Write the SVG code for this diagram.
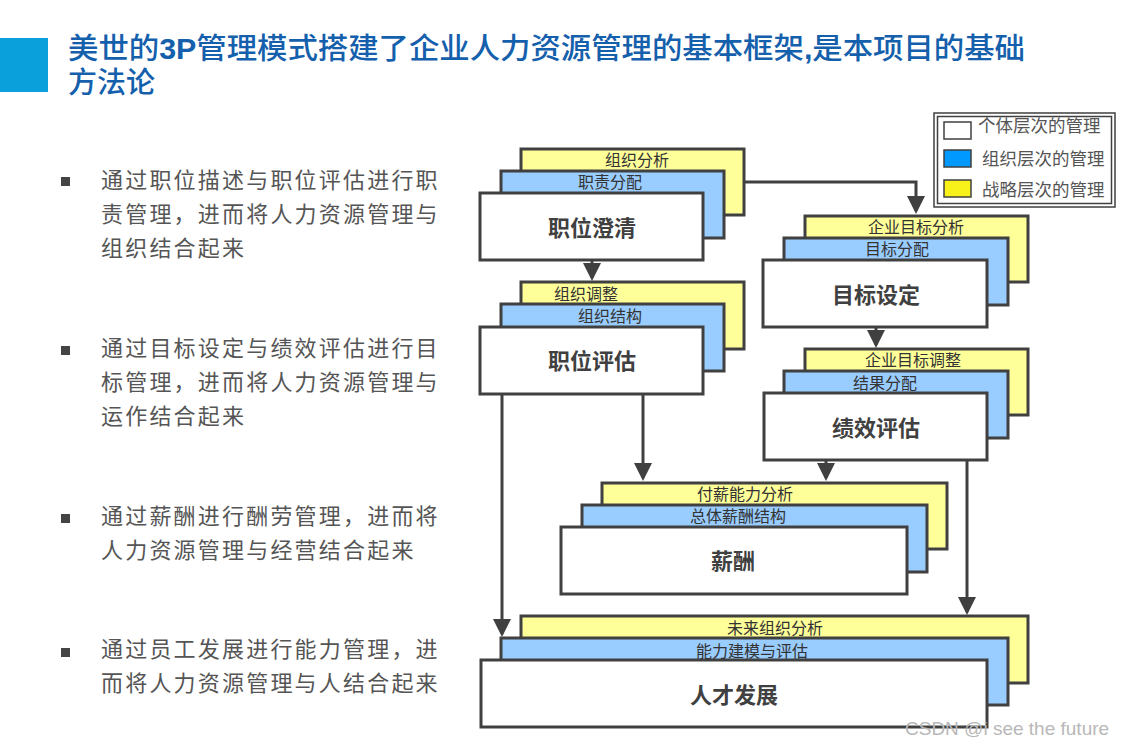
<svg xmlns="http://www.w3.org/2000/svg" width="1124" height="745" viewBox="0 0 1124 745">
<style>
.y{fill:#FFFF99;stroke:#404040;stroke-width:3}
.b{fill:#99CCFF;stroke:#404040;stroke-width:3}
.w{fill:#FFFFFF;stroke:#404040;stroke-width:3}
.sub{font-family:"Noto Sans CJK SC",sans-serif;font-size:16px;fill:#333;text-anchor:middle}
.main{font-family:"Noto Sans CJK SC",sans-serif;font-size:22px;font-weight:bold;fill:#404040;text-anchor:middle}
.bt{font-family:"Noto Sans CJK SC",sans-serif;font-size:22px;fill:#555;letter-spacing:2.2px}
.lg{font-family:"Noto Sans CJK SC",sans-serif;font-size:17.5px;fill:#555}
.c{fill:none;stroke:#404040;stroke-width:3}
.tt{font-family:"Liberation Sans","Noto Sans CJK SC",sans-serif;font-size:29px;fill:#1560AC;font-weight:500}
</style>
<defs>
<marker id="ah" markerWidth="6" markerHeight="6" refX="5" refY="3" orient="auto" markerUnits="strokeWidth">
<path d="M0,0 L6,3 L0,6 z" fill="#404040"/>
</marker>
</defs>
<rect width="1124" height="745" fill="#fff"/>
<g id="title">
<rect x="0" y="38" width="48" height="54" fill="#0AA0DC"/>
<text class="tt" x="68" y="59" textLength="957" lengthAdjust="spacingAndGlyphs">美世的<tspan font-weight="bold">3P</tspan>管理模式搭建了企业人力资源管理的基本框架<tspan font-weight="bold">,</tspan>是本项目的基础</text>
<text class="tt" x="68" y="93">方法论</text>
</g>
<g id="bullets">
<rect x="61" y="177" width="9" height="9" fill="#444"/>
<text class="bt" x="101" y="188">通过职位描述与职位评估进行职</text>
<text class="bt" x="101" y="222">责管理，进而将人力资源管理与</text>
<text class="bt" x="101" y="256">组织结合起来</text>
<rect x="61" y="346" width="9" height="9" fill="#444"/>
<text class="bt" x="101" y="356">通过目标设定与绩效评估进行目</text>
<text class="bt" x="101" y="390">标管理，进而将人力资源管理与</text>
<text class="bt" x="101" y="424">运作结合起来</text>
<rect x="61" y="514" width="9" height="9" fill="#444"/>
<text class="bt" x="101" y="524">通过薪酬进行酬劳管理，进而将</text>
<text class="bt" x="101" y="558">人力资源管理与经营结合起来</text>
<rect x="61" y="648" width="9" height="9" fill="#444"/>
<text class="bt" x="101" y="657">通过员工发展进行能力管理，进</text>
<text class="bt" x="101" y="691">而将人力资源管理与人结合起来</text>
</g>
<g id="legend">
<rect x="934" y="113" width="181" height="94" fill="#fff" stroke="#404040" stroke-width="1.5"/>
<rect x="937.5" y="116.5" width="174" height="87" fill="none" stroke="#404040" stroke-width="1.5"/>
<rect x="944" y="122" width="27" height="17" fill="#fff" stroke="#404040" stroke-width="1.5"/>
<rect x="944" y="150" width="27" height="17" fill="#0099FF" stroke="#404040" stroke-width="1.5"/>
<rect x="944" y="180" width="27" height="17" fill="#F8F21A" stroke="#404040" stroke-width="1.5"/>
<text class="lg" x="978" y="132">个体层次的管理</text>
<text class="lg" x="982" y="165">组织层次的管理</text>
<text class="lg" x="982" y="196">战略层次的管理</text>
</g>
<g id="connectors">
<path class="c" d="M744,182 H916 V211" marker-end="url(#ah)"/>
<path class="c" d="M592,260 V278" marker-end="url(#ah)"/>
<path class="c" d="M876,327 V345" marker-end="url(#ah)"/>
<path class="c" d="M643,394 V478" marker-end="url(#ah)"/>
<path class="c" d="M826,460 V478" marker-end="url(#ah)"/>
<path class="c" d="M502,394 V634" marker-end="url(#ah)"/>
<path class="c" d="M967,460 V612" marker-end="url(#ah)"/>
</g>
<g id="node-zhiweichengqing">
<rect class="y" x="521" y="149" width="223" height="66"/>
<rect class="b" x="501" y="171" width="223" height="67"/>
<rect class="w" x="480" y="193" width="223" height="67"/>
<text class="sub" x="637" y="166">组织分析</text>
<text class="sub" x="610" y="188">职责分配</text>
<text class="main" x="592" y="236">职位澄清</text>
</g>
<g id="node-mubiaosheding">
<rect class="y" x="805" y="216" width="223" height="66"/>
<rect class="b" x="784" y="238" width="224" height="67"/>
<rect class="w" x="763" y="260" width="224" height="67"/>
<text class="sub" x="916" y="233">企业目标分析</text>
<text class="sub" x="897" y="255">目标分配</text>
<text class="main" x="876" y="303">目标设定</text>
</g>
<g id="node-zhiweipinggu">
<rect class="y" x="521" y="282" width="223" height="67"/>
<rect class="b" x="501" y="304" width="223" height="67"/>
<rect class="w" x="480" y="327" width="223" height="67"/>
<text class="sub" x="586" y="300">组织调整</text>
<text class="sub" x="610" y="322">组织结构</text>
<text class="main" x="592" y="369">职位评估</text>
</g>
<g id="node-jixiaopinggu">
<rect class="y" x="805" y="349" width="223" height="66"/>
<rect class="b" x="784" y="371" width="224" height="67"/>
<rect class="w" x="764" y="393" width="223" height="67"/>
<text class="sub" x="913" y="366">企业目标调整</text>
<text class="sub" x="885" y="389">结果分配</text>
<text class="main" x="876" y="436">绩效评估</text>
</g>
<g id="node-xinchou">
<rect class="y" x="602" y="483" width="345" height="66"/>
<rect class="b" x="582" y="505" width="345" height="67"/>
<rect class="w" x="561" y="527" width="346" height="67"/>
<text class="sub" x="745" y="500">付薪能力分析</text>
<text class="sub" x="738" y="522">总体薪酬结构</text>
<text class="main" x="733" y="569">薪酬</text>
</g>
<g id="node-rencaifazhan">
<rect class="y" x="521" y="616" width="507" height="67"/>
<rect class="b" x="501" y="638" width="507" height="67"/>
<rect class="w" x="481" y="660" width="506" height="67"/>
<text class="sub" x="775" y="634">未来组织分析</text>
<text class="sub" x="752" y="657">能力建模与评估</text>
<text class="main" x="734" y="703">人才发展</text>
</g>
<text x="905" y="735" font-family="'Liberation Sans',sans-serif" font-size="19" fill="#b8b8b8">CSDN @i see the future</text>
</svg>
